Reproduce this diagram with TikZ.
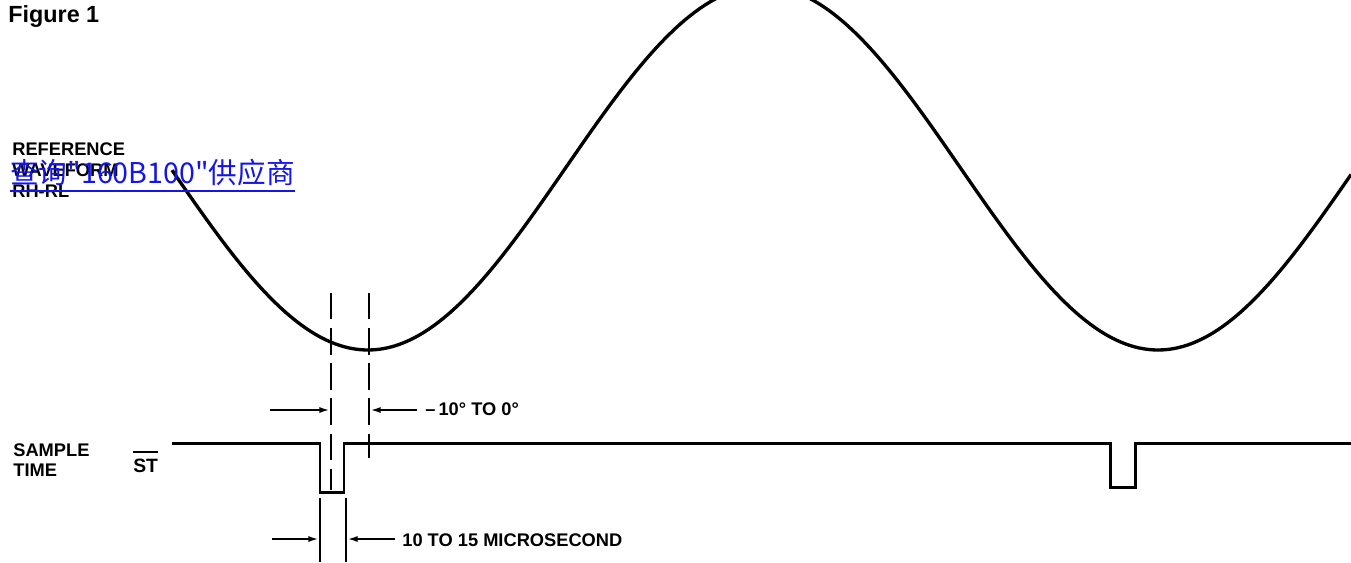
\documentclass[tikz,border=0pt]{standalone}
\usepackage{fontspec}
\setmainfont{Liberation Sans}
\newfontfamily\cjkfont{Noto Sans CJK SC}
\usetikzlibrary{arrows.meta}
\definecolor{linkBlue}{RGB}{20, 20, 235}
% bar over a signal name
\newcommand\barred[1]{\setbox0\hbox{#1}\rlap{\rule[\dimexpr\ht0+3.4pt\relax]{\wd0}{1.1pt}}\box0}

\begin{document}
\begin{tikzpicture}[
    x=0.02cm, y=-0.02cm,
    caption/.style={
      font=\bfseries\fontsize{10.4}{12}\selectfont,
      inner sep=0pt, anchor=base west
    },
    title/.style={caption, font=\bfseries\fontsize{13.3}{15}\selectfont},
    wave/.style={line width=1.9pt, line join=round},
    pulse/.style={line width=1.7pt, line join=miter},
    marker/.style={line width=1.4pt, dash pattern=on 15pt off 5pt},
    extline/.style={line width=1.3pt},
    dimarrow/.style={-{Latex[length=6pt, width=3.4pt]}, line width=1.2pt},
    weblink/.style={
      font=\cjkfont\fontsize{16.3}{19}\selectfont, text=linkBlue,
      inner sep=0pt, anchor=base west
    },
  ]
    \useasboundingbox (0,0) rectangle (1351,562);
    \clip (0,0) rectangle (1351,562);

    % Labels
    \node[title] (fig) at (8,22) {Figure 1};
    \node[caption] (ref1) at (12,155) {REFERENCE};
    \node[caption] (ref2) at (12,176) {WAVEFORM};
    \node[caption] (ref3) at (12,197) {RH-RL};
    \node[caption] (samp1) at (13,456) {SAMPLE};
    \node[caption] (samp2) at (13,476) {TIME};
    \node[caption, font=\bfseries\fontsize{11}{13}\selectfont] (st) at (133,472) {\barred{ST}};
    \node[caption] (phase) at (425,415) {–\,10° TO 0°};
    \node[caption] (width) at (402,546) {10 TO 15 MICROSECOND};

    % Reference waveform (period 790 px)
    \draw[wave] plot[domain=172:1351, samples=240]
      (\x, {168+182*cos(0.455696*(\x-368))});

    % Sample time pulses
    \coordinate (sigL) at (172,443);
    \coordinate (sigR) at (1351,443);
    \draw[pulse] (sigL) -- (320,443) -- (320,492) -- (344,492) -- (344,443)
      -- (1110,443) -- (1110,487) -- (1135,487) -- (1135,443) -- (sigR);

    % Markers
    \foreach \xm/\yend in {331/490, 369/458} {
      \draw[marker] (\xm,293) -- (\xm,\yend);
    }
    \foreach \xm in {320, 346} {
      \draw[extline] (\xm,498) -- (\xm,562);
    }

    % Dimension arrows
    \coordinate (phL) at (270,410);
    \coordinate (phLtip) at (330,410);
    \coordinate (phR) at (417,410);
    \coordinate (phRtip) at (370,410);
    \coordinate (wdL) at (272,539);
    \coordinate (wdLtip) at (319,539);
    \coordinate (wdR) at (395,539);
    \coordinate (wdRtip) at (347,539);
    \foreach \i/\j in {phL/phLtip, phR/phRtip, wdL/wdLtip, wdR/wdRtip} {
      \draw[dimarrow] (\i) -- (\j);
    }

    % Link overlay
    \node[weblink] (link) at (10,183) {查询"160B100"供应商};
    \draw[linkBlue, line width=1.1pt] ([yshift=-4.5pt]link.base west) -- ([yshift=-4.5pt]link.base east);
  \end{tikzpicture}
\end{document}
